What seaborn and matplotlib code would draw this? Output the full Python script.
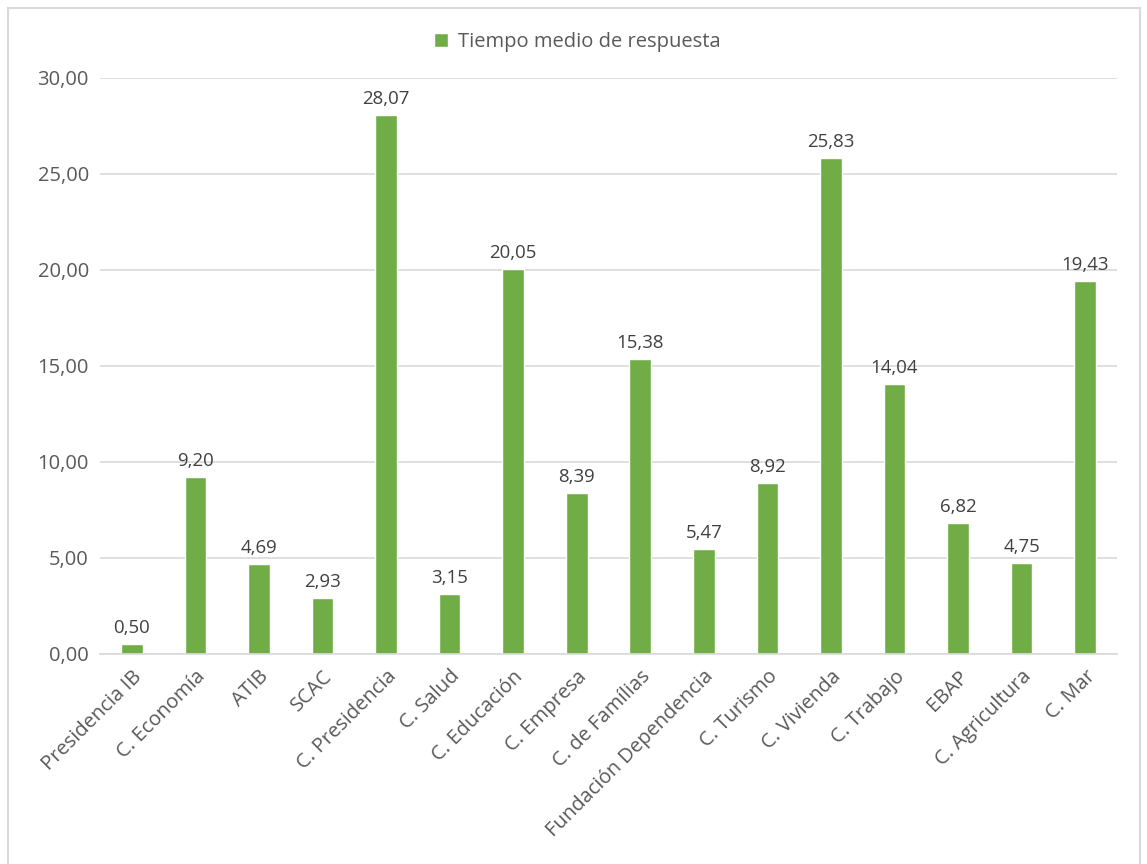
import matplotlib
matplotlib.use("Agg")
import matplotlib.pyplot as plt
import seaborn as sns
import pandas as pd
from matplotlib.patches import Rectangle
from matplotlib.ticker import FuncFormatter, MultipleLocator

categories = ["Presidencia IB", "C. Economía", "ATIB", "SCAC", "C. Presidencia",
              "C. Salud", "C. Educación", "C. Empresa", "C. de Famílias",
              "Fundación Dependencia", "C. Turismo", "C. Vivienda", "C. Trabajo",
              "EBAP", "C. Agricultura", "C. Mar"]
values = [0.50, 9.20, 4.69, 2.93, 28.07, 3.15, 20.05, 8.39, 15.38,
          5.47, 8.92, 25.83, 14.04, 6.82, 4.75, 19.43]
series_name = "Tiempo medio de respuesta"

sns.set_theme(style="white")
plt.rcParams['font.family'] = ['Open Sans', 'DejaVu Sans']

df = pd.DataFrame({"cat": categories, "val": values})

fig = plt.figure(figsize=(11.47, 8.64), dpi=100)
ax = fig.add_axes([100/1147, 1-654/864, (1117-100)/1147, (654-78)/864])

green = "#70AD47"
sns.barplot(data=df, x="cat", y="val", color=green, width=0.34, ax=ax,
            label=series_name, saturation=1)

ax.set_ylim(0, 30)
ax.yaxis.set_major_locator(MultipleLocator(5))
ax.yaxis.set_major_formatter(FuncFormatter(lambda v, p: f"{v:.2f}".replace(".", ",")))
ax.grid(axis="y", color="#d9d9d9", linewidth=1.2)
ax.set_axisbelow(True)
for s in ["top", "right", "left"]:
    ax.spines[s].set_visible(False)
ax.spines["bottom"].set_color("#d9d9d9")
ax.spines["bottom"].set_linewidth(1.2)
ax.set_xlabel("")
ax.set_ylabel("")
ax.tick_params(axis="y", colors="#595959", labelsize=14.5, length=0, pad=8)
ax.tick_params(axis="x", colors="#595959", labelsize=14.5, length=0, pad=9)
plt.setp(ax.get_xticklabels(), rotation=45, ha="right", rotation_mode="anchor")

labels = [f"{v:.2f}".replace(".", ",") for v in values]
ax.bar_label(ax.containers[0], labels=labels, padding=5, fontsize=13.4, color="#404040")

leg = ax.legend(loc="center", frameon=False, fontsize=14.5, handlelength=0.7,
                handleheight=0.7, handletextpad=0.5, labelcolor="#595959")
leg.set_bbox_to_anchor(((577 - 100) / 1017, (654 - 42) / (654 - 78)), transform=ax.transAxes)

fig.patches.append(Rectangle((8/1147, -0.05), (1140-8)/1147, 1 - 8/864 + 0.05,
                             transform=fig.transFigure, fill=False,
                             edgecolor="#d9d9d9", linewidth=1.5))

fig.savefig("out.png", dpi=100)
